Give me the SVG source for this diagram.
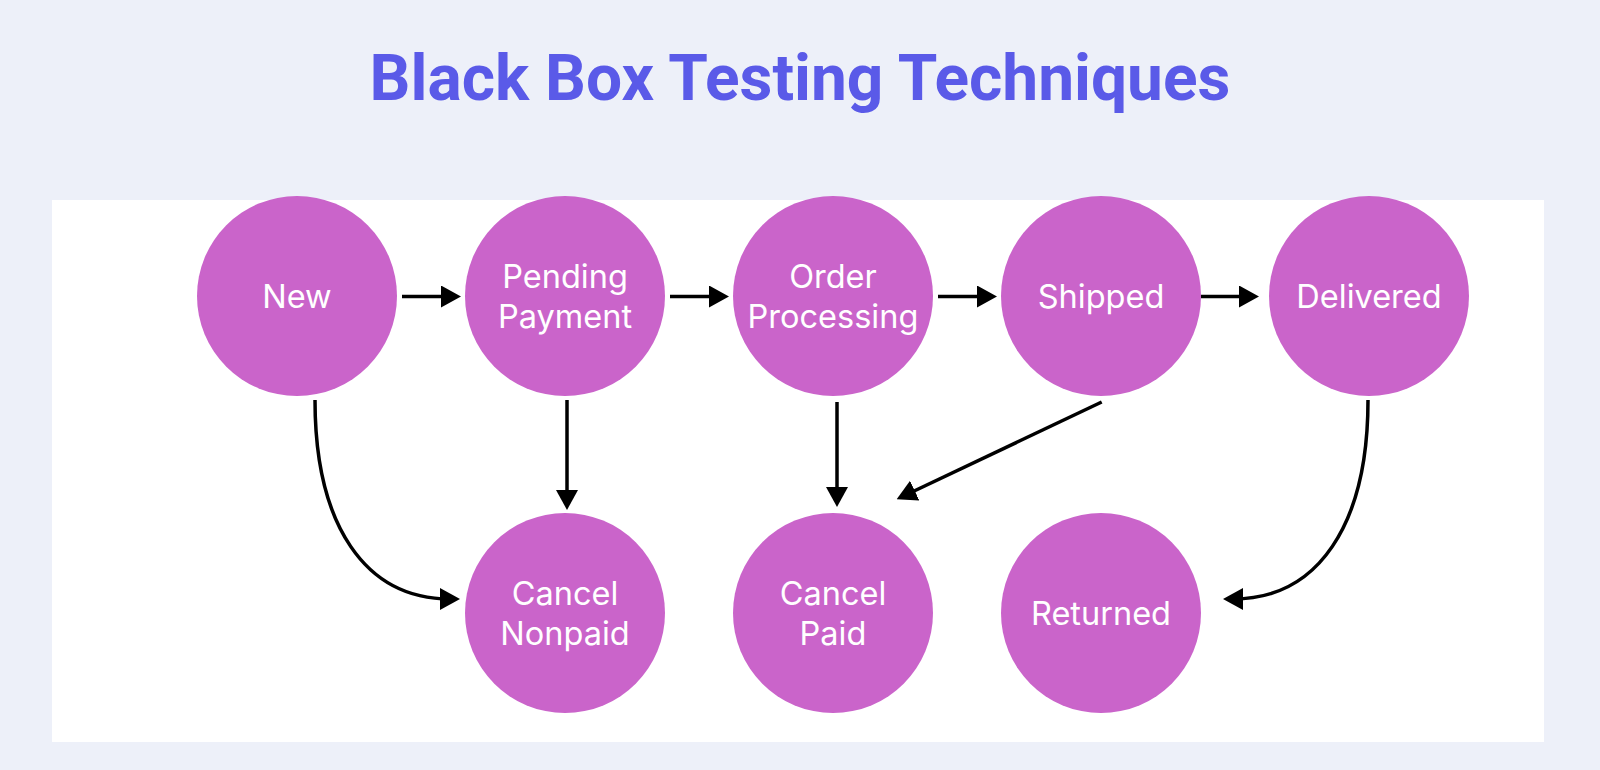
<svg xmlns="http://www.w3.org/2000/svg" width="1600" height="770" viewBox="0 0 1600 770">
<defs>
<style>
.node{fill:#ca64ca}
.lbl{fill:#ffffff;font-family:Inter,"Noto Sans",sans-serif;font-size:32.5px;text-anchor:middle}
.title{fill:#5a5ae8;font-family:Roboto,"Liberation Sans",sans-serif;font-weight:bold;font-size:64px;text-anchor:middle}
.edge{fill:none;stroke:#000;stroke-width:3.5}
</style>
<marker id="ah" markerUnits="userSpaceOnUse" markerWidth="20" markerHeight="22" refX="10" refY="11" orient="auto" viewBox="0 0 20 22">
<path d="M0,0 L20,11 L0,22 z" fill="#000"/>
</marker>
</defs>
<rect width="1600" height="770" fill="#edf0f9"/>
<rect x="52" y="200" width="1492" height="542" fill="#ffffff"/>
<text class="title" x="800" y="100">Black Box Testing Techniques</text>
<g id="connectors">
<path class="edge" marker-end="url(#ah)" d="M402,296.5 L451,296.5"/>
<path class="edge" marker-end="url(#ah)" d="M670,296.5 L719,296.5"/>
<path class="edge" marker-end="url(#ah)" d="M938,296.5 L987,296.5"/>
<path class="edge" marker-end="url(#ah)" d="M1201,296.5 L1249,296.5"/>
<path class="edge" marker-end="url(#ah)" d="M567,400 L567,500"/>
<path class="edge" marker-end="url(#ah)" d="M837,402 L837,497"/>
<path class="edge" marker-end="url(#ah)" d="M1101.7,402 L905.7,495"/>
<path class="edge" marker-end="url(#ah)" d="M315,400 C315,525 365,599 450,599"/>
<path class="edge" marker-end="url(#ah)" d="M1368,400 C1368,525 1318,599 1233,599"/>
</g>
<g id="new"><circle class="node" cx="297" cy="296" r="100"/><text class="lbl" x="297" y="308">New</text></g>
<g id="pending"><circle class="node" cx="565" cy="296" r="100"/><text class="lbl" x="565" y="288">Pending</text><text class="lbl" x="565" y="328">Payment</text></g>
<g id="processing"><circle class="node" cx="833" cy="296" r="100"/><text class="lbl" x="833" y="288">Order</text><text class="lbl" x="833" y="328">Processing</text></g>
<g id="shipped"><circle class="node" cx="1101" cy="296" r="100"/><text class="lbl" x="1101" y="308">Shipped</text></g>
<g id="delivered"><circle class="node" cx="1369" cy="296" r="100"/><text class="lbl" x="1369" y="308">Delivered</text></g>
<g id="cancel-nonpaid"><circle class="node" cx="565" cy="613" r="100"/><text class="lbl" x="565" y="605">Cancel</text><text class="lbl" x="565" y="645">Nonpaid</text></g>
<g id="cancel-paid"><circle class="node" cx="833" cy="613" r="100"/><text class="lbl" x="833" y="605">Cancel</text><text class="lbl" x="833" y="645">Paid</text></g>
<g id="returned"><circle class="node" cx="1101" cy="613" r="100"/><text class="lbl" x="1101" y="625">Returned</text></g>
</svg>
